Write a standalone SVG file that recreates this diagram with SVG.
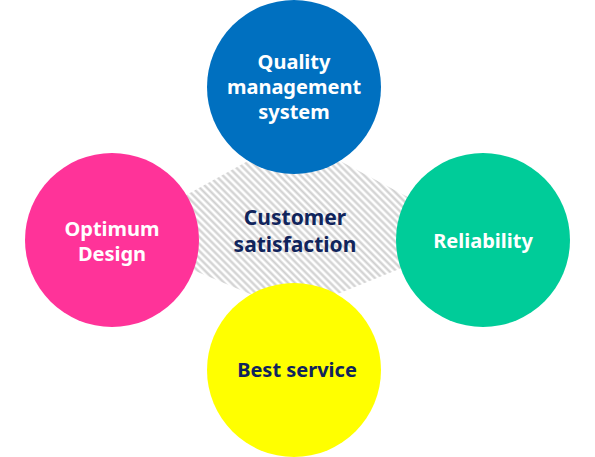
<svg xmlns="http://www.w3.org/2000/svg" width="595" height="457" viewBox="0 0 595 457">
  <style>
    text { font-family: "Noto Sans", "Open Sans", "DejaVu Sans", sans-serif; font-weight: 700; font-size: 20px; text-anchor: middle; }
    .w { fill: #ffffff; }
    .d { fill: #10245c; }
    .big { font-size: 21px; }
  </style>
  <defs>
    <pattern id="hatch" patternUnits="userSpaceOnUse" width="5" height="5" patternTransform="rotate(45)">
      <rect width="5" height="5" fill="#ffffff"/>
      <line x1="0" y1="1.5" x2="5" y2="1.5" stroke="#cfcfcf" stroke-width="2.2"/>
    </pattern>
  </defs>
  <rect width="595" height="457" fill="#ffffff"/>
  <g id="center">
    <polygon points="293,136 481,236 293,312 112,236" fill="url(#hatch)"/>
  </g>
  <g id="qms">
    <circle cx="294" cy="87" r="87" fill="#0070c0"/>
    <text class="w" x="294" y="69">Quality</text>
    <text class="w" x="294" y="94">management</text>
    <text class="w" x="294" y="119">system</text>
  </g>
  <g id="reliability">
    <circle cx="483" cy="240" r="87" fill="#00cc99"/>
    <text class="w" x="483" y="248">Reliability</text>
  </g>
  <g id="optimum">
    <circle cx="112" cy="240" r="87" fill="#ff3399"/>
    <text class="w" x="112" y="236">Optimum</text>
    <text class="w" x="112" y="261">Design</text>
  </g>
  <g id="service">
    <circle cx="294" cy="370" r="87" fill="#ffff00"/>
    <text class="d" x="297" y="377">Best service</text>
  </g>
  <g id="customer">
    <text class="d big" x="295" y="225">Customer</text>
    <text class="d big" x="295" y="252">satisfaction</text>
  </g>
  <g id="connectors"/>
</svg>
